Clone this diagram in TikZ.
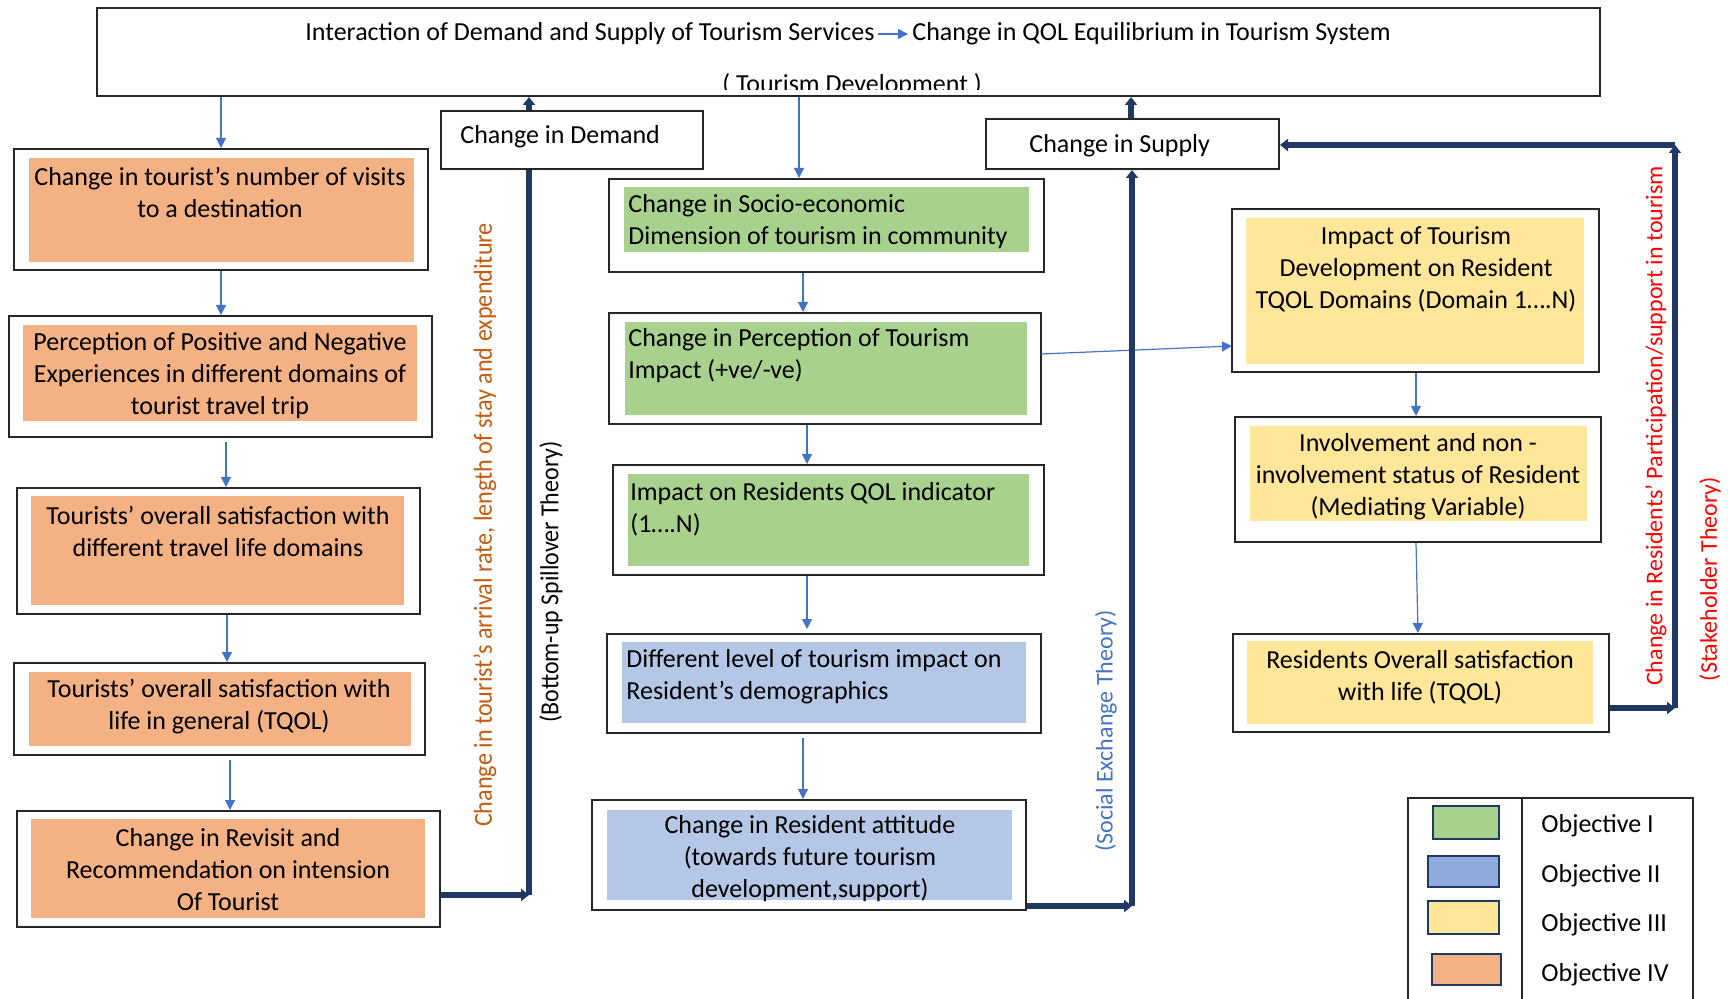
\documentclass[tikz,border=0pt]{standalone}
\usepackage{fontspec}
\setmainfont{Carlito}
\usepackage{graphicx}
\usetikzlibrary{arrows.meta,fit}
\definecolor{orgfill}{HTML}{F4B183}
\definecolor{grnfill}{HTML}{A9D18E}
\definecolor{blufill}{HTML}{B4C7E7}
\definecolor{blulegend}{HTML}{8FAADC}
\definecolor{yelfill}{HTML}{FFE699}
\definecolor{navy}{HTML}{1F3864}
\definecolor{arrowblue}{HTML}{4472C4}
\definecolor{orgtext}{HTML}{C55A11}
\newcommand{\obox}[5]{%
  \path (#2,#3) coordinate (#1-nw) (#4,#5) coordinate (#1-se);
  \node[outerbox, fit=(#1-nw)(#1-se)] (#1) {};}
\begin{document}
\begin{tikzpicture}[x=0.5pt,y=-0.5pt,
  outerbox/.style={draw=black!85, line width=1pt, inner sep=0pt},
  txt/.style={font=\fontsize{13}{16}\selectfont, inner sep=0pt, align=center, yshift=-1.5pt},
  ltxt/.style={font=\fontsize{13}{16}\selectfont, inner sep=0pt, align=left, anchor=west, yshift=-1.5pt},
  thinarrow/.style={draw=arrowblue, line width=0.6pt, -{Triangle[length=5pt,width=5pt]}},
  thickline/.style={draw=navy, line width=2.6pt},
  thickarrow/.style={thickline, -{Triangle[length=4pt,width=6pt]}},
  swatch/.style={draw=navy, line width=1.2pt},
]
\useasboundingbox (0,0) rectangle (1728,999);

% ---------- top box ----------
\obox{top}{97}{8}{1600}{96}
\node[txt, anchor=east] (t1) at (875,31) {Interaction of Demand and Supply of Tourism Services};
\node[txt, anchor=west] (t2) at (912,31) {Change in QOL Equilibrium in Tourism System};
\draw[thinarrow, shorten <=1.5pt, shorten >=2pt] (t1.east) -- (t2.west);
\begin{scope}
  \clip (97,8) rectangle (1600,90);
  \node[txt] (t3) at (852,82) {( Tourism Development )};
\end{scope}

% ---------- demand / supply boxes ----------
\obox{dem}{441}{111}{703}{169}
\node[ltxt] (demt) at (460,134) {Change in Demand};
\obox{sup}{986}{119}{1279}{169}
\node[ltxt] (supt) at (1029,143) {Change in Supply};

% ---------- left column ----------
\obox{b1}{14}{149}{428}{270}
\fill[orgfill] (29,158) rectangle (414,262);
\node[txt] (b1t) at (220,189) {Change in tourist’s number of visits\\to a destination};

\obox{b2}{9}{316}{432}{437}
\fill[orgfill] (23,325) rectangle (417,421);
\node[txt] (b2t) at (220,373) {Perception of Positive and Negative\\Experiences in different domains of\\tourist travel trip};

\obox{b3}{17}{488}{420}{614}
\fill[orgfill] (31,496) rectangle (404,605);
\node[txt] (b3t) at (218,528) {Tourists’ overall satisfaction with\\different travel life domains};

\obox{b4}{14}{663}{425}{755}
\fill[orgfill] (29,672) rectangle (411,746);
\node[txt] (b4t) at (219,704) {Tourists’ overall satisfaction with\\life in general (TQOL)};

\obox{b5}{17}{811}{440}{927}
\fill[orgfill] (31,819) rectangle (425,918);
\node[txt] (b5t) at (228,867) {Change in Revisit and\\Recommendation on intension\\Of Tourist};

% ---------- middle column ----------
\obox{g1}{609}{179}{1044}{272}
\fill[grnfill] (624,187) rectangle (1029,252);
\node[ltxt] (g1t) at (628,219) {Change in Socio-economic\\Dimension of tourism in community};

\obox{g2}{609}{313}{1041}{424}
\fill[grnfill] (625,322) rectangle (1027,415);
\node[ltxt] (g2t) at (628,353) {Change in Perception of Tourism\\Impact (+ve/-ve)};

\obox{g3}{613}{465}{1044}{575}
\fill[grnfill] (628,474) rectangle (1029,566);
\node[ltxt] (g3t) at (630,506) {Impact on Residents QOL indicator\\(1….N)};

\obox{u1}{607}{634}{1041}{733}
\fill[blufill] (622,642) rectangle (1026,723);
\node[ltxt] (u1t) at (626,674) {Different level of tourism impact on\\Resident’s demographics};

\obox{u2}{592}{800}{1026}{910}
\fill[blufill] (607,810) rectangle (1012,900);
\node[txt] (u2t) at (810,856) {Change in Resident attitude\\(towards future tourism\\development,support)};

% ---------- right column ----------
\obox{y1}{1232}{209}{1599}{372}
\fill[yelfill] (1246,218) rectangle (1584,364);
\node[txt] (y1t) at (1416,266) {Impact of Tourism\\Development on Resident\\TQOL Domains (Domain 1….N)};

\obox{y2}{1235}{417}{1601}{542}
\fill[yelfill] (1250,426) rectangle (1587,521);
\node[txt] (y2t) at (1418,474) {Involvement and non -\\involvement status of Resident\\(Mediating Variable)};

\obox{y3}{1233}{634}{1609}{732}
\fill[yelfill] (1247,641) rectangle (1593,724);
\node[txt] (y3t) at (1420,674) {Residents Overall satisfaction\\with life (TQOL)};

% ---------- thin arrows ----------
\coordinate (xa) at (221,0);
\coordinate (xb) at (226,0);
\coordinate (xc) at (227,0);
\coordinate (xd) at (230,0);
\coordinate (xm) at (799,0);
\coordinate (xm1) at (803,0);
\coordinate (xm2) at (807,0);
\coordinate (xr) at (1416,0);
\coordinate (xr2) at (1418,0);
\draw[thinarrow] (top.south -| xa) -- (b1.north -| xa);
\draw[thinarrow] (b1.south -| xa) -- (b2.north -| xa);
\draw[thinarrow] ([yshift=-2pt]b2.south -| xb) -- (b3.north -| xb);
\draw[thinarrow] (b3.south -| xc) -- (b4.north -| xc);
\draw[thinarrow] ([yshift=-2pt]b4.south -| xd) -- (b5.north -| xd);
\draw[thinarrow] (top.south -| xm) -- (g1.north -| xm);
\draw[thinarrow] (g1.south -| xm1) -- (g2.north -| xm1);
\draw[thinarrow] (g2.south -| xm2) -- (g3.north -| xm2);
\draw[thinarrow] (g3.south -| xm2) -- ([yshift=2pt]u1.north -| xm2);
\draw[thinarrow] ([yshift=-2pt]u1.south -| xm1) -- (u2.north -| xm1);
\coordinate (gout) at (1041,354);
\coordinate (yin) at (1232,346);
\draw[thinarrow] (gout) -- (yin);
\draw[thinarrow] (y1.south -| xr) -- (y2.north -| xr);
\draw[thinarrow] (y2.south -| xr) -- (y3.north -| xr2);

% ---------- thick feedback lines ----------
\coordinate (dcorner) at (529,895);
\coordinate (xdem) at (529,0);
\draw[thickarrow] (b5.east |- dcorner) -- (dcorner);
\draw[thickline] (dcorner) -- (dem.south -| xdem);
\draw[thickarrow] (dem.north -| xdem) -- (top.south -| xdem);

\coordinate (scorner) at (1132,906);
\coordinate (xsup) at (1131,0);
\draw[thickarrow] (u2.east |- scorner) -- (scorner);
\draw[thickarrow] (scorner) -- (sup.south -| scorner);
\draw[thickarrow] (sup.north -| xsup) -- (top.south -| xsup);

\coordinate (kcorner) at (1675,708);
\coordinate (ktop) at (1675,145);
\draw[thickarrow] (y3.east |- kcorner) -- (kcorner);
\draw[thickarrow] (kcorner) -- (ktop);
\draw[thickarrow] (ktop) -- (sup.east |- ktop);

% ---------- rotated labels ----------
\node[rotate=90, text=orgtext, inner sep=0pt] (lab1) at (485,525)
  {\fontsize{13}{16}\selectfont\scalebox{0.93}[1]{Change in tourist’s arrival rate, length of stay and expenditure}};
\node[rotate=90, inner sep=0pt] (lab2) at (551,582)
  {\fontsize{13}{16}\selectfont\scalebox{0.92}[1]{(Bottom-up Spillover Theory)}};
\node[rotate=90, text=arrowblue, inner sep=0pt] (lab3) at (1106,731)
  {\fontsize{12}{14}\selectfont (Social Exchange Theory)};
\node[rotate=90, text=red, inner sep=0pt] (lab4) at (1656,426)
  {\fontsize{12}{14}\selectfont Change in Residents’ Participation/support in tourism};
\node[rotate=90, text=red, inner sep=0pt] (lab5) at (1710,579)
  {\fontsize{12}{14}\selectfont (Stakeholder Theory)};

% ---------- legend ----------
\draw[line width=0.8pt, black!85] (1408,1010) -- (1408,798) -- (1693,798) -- (1693,1010);
\draw[line width=0.8pt, black!85] (1522,798) -- (1522,1010);
\node[swatch, fill=grnfill, fit={(1433,806)(1499,839)}, inner sep=0pt] (s1) {};
\node[swatch, fill=blulegend, fit={(1428,856)(1499,887)}, inner sep=0pt] (s2) {};
\node[swatch, fill=yelfill, fit={(1428,901)(1499,934)}, inner sep=0pt] (s3) {};
\node[swatch, fill=orgfill, fit={(1432,954)(1501,985)}, inner sep=0pt] (s4) {};
\node[ltxt] (o1) at (1541,823) {Objective I};
\node[ltxt] (o2) at (1541,873) {Objective II};
\node[ltxt] (o3) at (1541,922) {Objective III};
\node[ltxt] (o4) at (1541,972) {Objective IV};
\end{tikzpicture}
\end{document}
